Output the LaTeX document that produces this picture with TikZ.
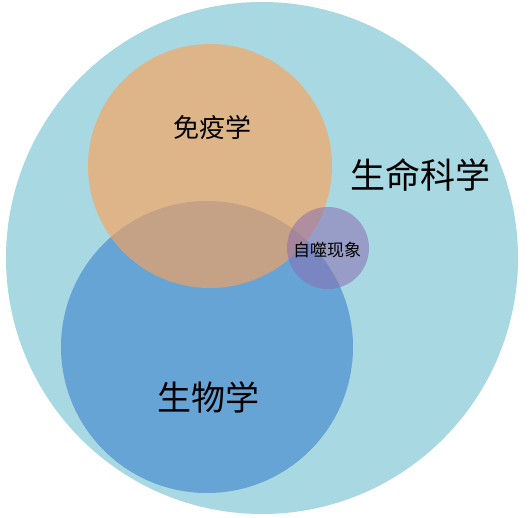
\documentclass[tikz,border=0pt]{standalone}
\usepackage{fontspec}
\newfontfamily\cjk{Noto Sans CJK SC}
\usetikzlibrary{positioning}

\definecolor{lifeblue}{HTML}{A8D8E2}
\definecolor{bioblue}{HTML}{5B9BD5}
\definecolor{immorange}{HTML}{FEA256}
\definecolor{autopurple}{HTML}{8A6EB0}

\begin{document}
\begin{tikzpicture}[
            x=1pt, y=-1pt,
            set_circle/.style={circle, inner sep=0pt, draw=none},
            set_label/.style={font=\cjk, text=black, inner sep=0pt}
        ]
            \useasboundingbox (0,0) rectangle (532,518);

            % --- The sets ---
            \node[set_circle, fill=lifeblue, minimum size=512pt] (life) at (262,258) {};
            \node[set_circle, fill=bioblue, fill opacity=0.85, minimum size=292pt] (bio) at (207,347) {};
            \node[set_circle, fill=immorange, fill opacity=0.63, minimum size=244pt] (immune) at (210,166) {};
            \node[set_circle, fill=autopurple, fill opacity=0.55, minimum size=82pt] (auto) at (328,248) {};

            % --- Labels ---
            \node[set_label, font=\cjk\fontsize{35}{40}\selectfont] (life_text) at (420,175) {生命科学};
            \node[set_label, font=\cjk\fontsize{34}{40}\selectfont] (bio_text) at (208,397) {生物学};
            \node[set_label, font=\cjk\fontsize{26}{30}\selectfont] (immune_text) at (212,128) {免疫学};
            \node[set_label, font=\cjk\fontsize{17}{20}\selectfont] (auto_text) at (327,250) {自噬现象};

        \end{tikzpicture}
\end{document}
